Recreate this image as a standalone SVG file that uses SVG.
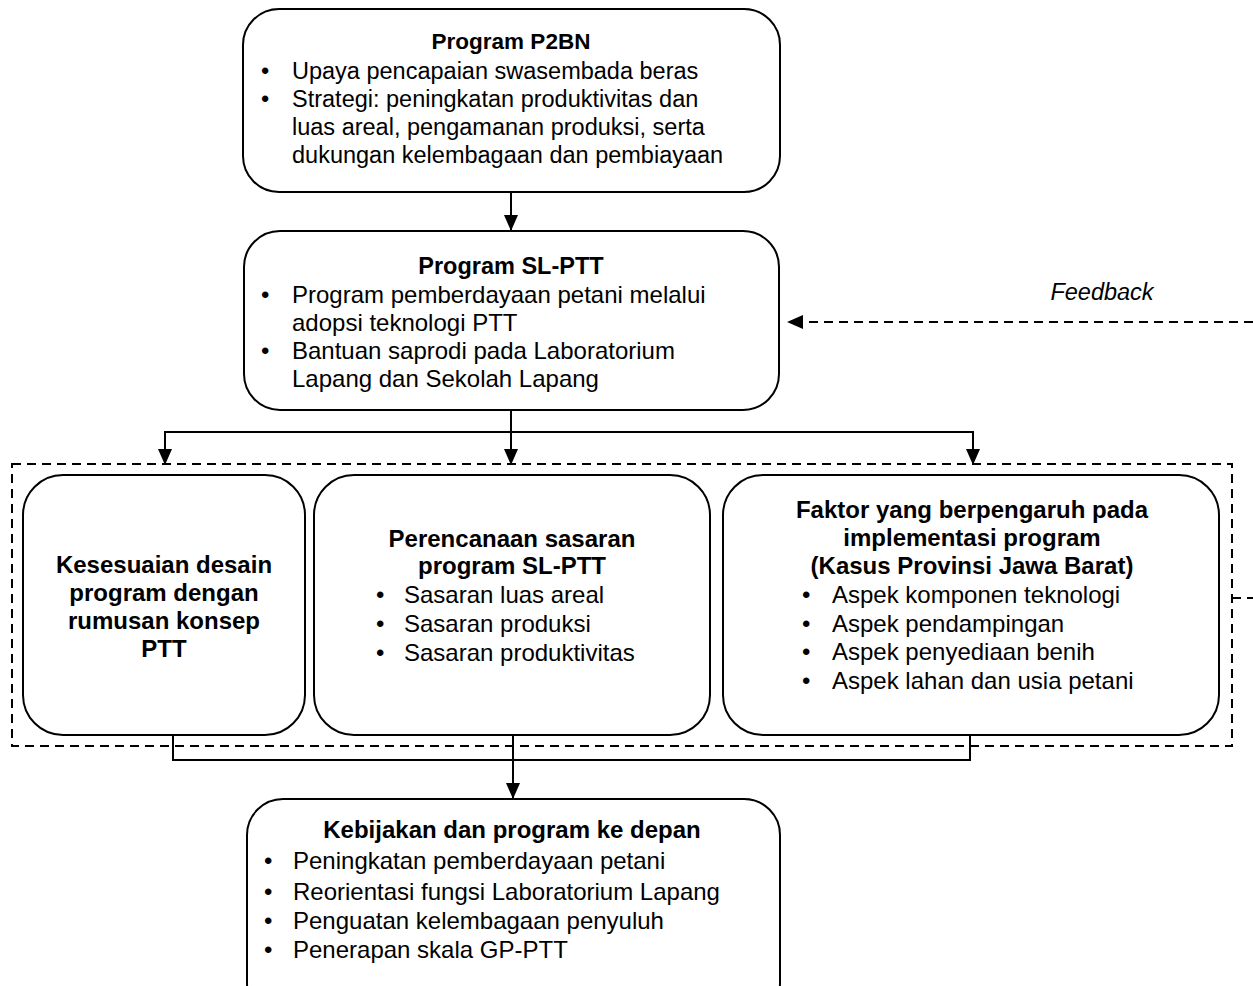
<svg xmlns="http://www.w3.org/2000/svg" width="1253" height="986" viewBox="0 0 1253 986">
<style>
.box{fill:#fff;stroke:#000;stroke-width:2}
.t{font-family:"Liberation Sans",Arial,sans-serif;font-size:24px;fill:#000}
.s{font-size:23.5px}
.b{font-weight:bold}
.c{text-anchor:middle}
.ln{fill:none;stroke:#000;stroke-width:2}
.dash{fill:none;stroke:#000;stroke-width:2;stroke-dasharray:9,6}
</style>
<defs>
<marker id="ah" markerWidth="16" markerHeight="14" refX="15" refY="7" orient="auto" markerUnits="userSpaceOnUse">
<path d="M0,0 L16,7 L0,14 z" fill="#000"/>
</marker>
</defs>
<rect x="0" y="0" width="1253" height="986" fill="#fff"/>
<g id="container">
<rect x="12" y="464" width="1220" height="282" class="dash"/>
</g>
<g id="connectors">
<line x1="511" y1="192" x2="511" y2="230" class="ln" marker-end="url(#ah)"/>
<line x1="511" y1="410" x2="511" y2="432" class="ln"/>
<polyline points="165,464 165,432 973,432 973,464" class="ln"/>
<line x1="165" y1="432" x2="165" y2="464" class="ln" marker-end="url(#ah)"/>
<line x1="511" y1="432" x2="511" y2="464" class="ln" marker-end="url(#ah)"/>
<line x1="973" y1="432" x2="973" y2="464" class="ln" marker-end="url(#ah)"/>
<polyline points="173,735 173,760 970,760 970,735" class="ln"/>
<line x1="513" y1="735" x2="513" y2="798" class="ln" marker-end="url(#ah)"/>
<line x1="1253" y1="322" x2="788" y2="322" class="dash" marker-end="url(#ah)"/>
<line x1="1232" y1="598" x2="1253" y2="598" class="dash"/>
</g>
<g id="n1">
<rect x="243" y="9" width="537" height="183" rx="36" class="box"/>
<text x="511" y="49" class="t b c" style="font-size:22.5px">Program P2BN</text>
<text class="t s"><tspan x="261" y="79">•</tspan><tspan x="292" y="79">Upaya pencapaian swasembada beras</tspan>
<tspan x="261" y="107">•</tspan><tspan x="292" y="107">Strategi: peningkatan produktivitas dan</tspan>
<tspan x="292" y="135">luas areal, pengamanan produksi, serta</tspan>
<tspan x="292" y="163">dukungan kelembagaan dan pembiayaan</tspan></text>
</g>
<g id="n2">
<rect x="244" y="231" width="535" height="179" rx="36" class="box"/>
<text x="511" y="274" class="t b c" style="font-size:23.5px">Program SL-PTT</text>
<text class="t"><tspan x="261" y="303">•</tspan><tspan x="292" y="303">Program pemberdayaan petani melalui</tspan>
<tspan x="292" y="331">adopsi teknologi PTT</tspan>
<tspan x="261" y="359">•</tspan><tspan x="292" y="359">Bantuan saprodi pada Laboratorium</tspan>
<tspan x="292" y="387">Lapang dan Sekolah Lapang</tspan></text>
</g>
<g id="feedback">
<text x="1102" y="300" class="t c s" font-style="italic">Feedback</text>
</g>
<g id="n3">
<rect x="23" y="475" width="282" height="260" rx="40" class="box"/>
<text class="t b c"><tspan x="164" y="573">Kesesuaian desain</tspan><tspan x="164" y="601">program dengan</tspan><tspan x="164" y="629">rumusan konsep</tspan><tspan x="164" y="657">PTT</tspan></text>
</g>
<g id="n4">
<rect x="314" y="475" width="396" height="260" rx="40" class="box"/>
<text class="t b c"><tspan x="512" y="547">Perencanaan sasaran</tspan><tspan x="512" y="574">program SL-PTT</tspan></text>
<text class="t"><tspan x="376" y="603">•</tspan><tspan x="404" y="603">Sasaran luas areal</tspan>
<tspan x="376" y="632">•</tspan><tspan x="404" y="632">Sasaran produksi</tspan>
<tspan x="376" y="661">•</tspan><tspan x="404" y="661">Sasaran produktivitas</tspan></text>
</g>
<g id="n5">
<rect x="723" y="475" width="496" height="260" rx="40" class="box"/>
<text class="t b c"><tspan x="972" y="518">Faktor yang berpengaruh pada</tspan><tspan x="972" y="546">implementasi program</tspan><tspan x="972" y="574">(Kasus Provinsi Jawa Barat)</tspan></text>
<text class="t"><tspan x="802" y="603">•</tspan><tspan x="832" y="603">Aspek komponen teknologi</tspan>
<tspan x="802" y="632">•</tspan><tspan x="832" y="632">Aspek pendampingan</tspan>
<tspan x="802" y="660">•</tspan><tspan x="832" y="660">Aspek penyediaan benih</tspan>
<tspan x="802" y="689">•</tspan><tspan x="832" y="689">Aspek lahan dan usia petani</tspan></text>
</g>
<g id="n6">
<rect x="247" y="799" width="533" height="220" rx="36" class="box"/>
<text x="512" y="838" class="t b c">Kebijakan dan program ke depan</text>
<text class="t"><tspan x="264" y="869">•</tspan><tspan x="293" y="869">Peningkatan pemberdayaan petani</tspan>
<tspan x="264" y="900">•</tspan><tspan x="293" y="900">Reorientasi fungsi Laboratorium Lapang</tspan>
<tspan x="264" y="929">•</tspan><tspan x="293" y="929">Penguatan kelembagaan penyuluh</tspan>
<tspan x="264" y="958">•</tspan><tspan x="293" y="958">Penerapan skala GP-PTT</tspan></text>
</g>
</svg>
